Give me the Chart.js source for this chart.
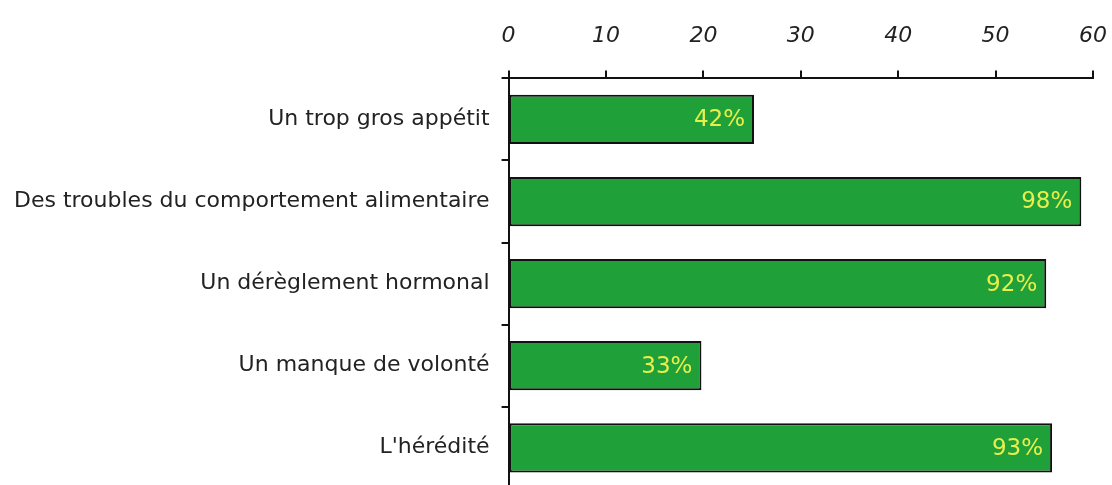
<!DOCTYPE html>
<html>
<head>
<meta charset="utf-8">
<script src="https://cdn.jsdelivr.net/npm/chart.js@4/dist/chart.umd.min.js"></script>
<style>
  html, body { margin: 0; padding: 0; background: #fff; overflow: hidden; }
</style>
</head>
<body>
<canvas id="chart-canvas" width="1112" height="514"></canvas>
<script>
// causes of obesity, bar length read on the 0-60 scale, label = percent
var categories = ["Un trop gros appétit", "Des troubles du comportement alimentaire", "Un dérèglement hormonal", "Un manque de volonté", "L'hérédité"];
var values = [25.2, 58.8, 55.2, 19.8, 55.8];
var percentLabels = ["42%", "98%", "92%", "33%", "93%"];
var xTicks = [0, 10, 20, 30, 40, 50, 60];

var labelFont = "'DejaVu Sans', sans-serif";

// draws the yellow percent text at the right end of each bar
var percentPlugin = {
    id: 'percentText',
    afterDatasetsDraw: function (chart) {
        var ctx = chart.ctx;
        var meta = chart.getDatasetMeta(0);
        ctx.save();
        ctx.font = "23px " + labelFont;
        ctx.fillStyle = '#e8ee4c';
        ctx.textAlign = 'right';
        ctx.textBaseline = 'middle';
        for (var i = 0; i < meta.data.length; i++) {
            var bar = meta.data[i];
            ctx.fillText(percentLabels[i], bar.x - 9, bar.y + 1);
        }
        ctx.restore();
    }
};

const ctx = document.getElementById('chart-canvas').getContext('2d');
var barChart = new Chart(ctx, {
    type: 'bar',
    data: {
        labels: categories,
        datasets: [{
            data: values,
            backgroundColor: '#20a038',
            borderColor: '#111',
            borderWidth: 2,
            borderSkipped: false,
            barPercentage: 0.6,
            categoryPercentage: 1
        }]
    },
    options: {
        indexAxis: 'y',
        responsive: false,
        animation: false,
        layout: {
            padding: { top: 2, right: 19, bottom: 1, left: 2 }
        },
        plugins: {
            legend: { display: false },
            tooltip: { enabled: false }
        },
        scales: {
            x: {
                position: 'top',
                min: 0,
                max: 60,
                afterBuildTicks: function (axis) {
                    axis.ticks = xTicks.map(function (v) { return { value: v }; });
                },
                afterFit: function (axis) {
                    axis.paddingRight = 0;
                    axis.paddingLeft = 0;
                },
                grid: {
                    drawOnChartArea: false,
                    color: '#111',
                    lineWidth: 2,
                    tickLength: 8
                },
                border: { color: '#111', width: 2 },
                ticks: {
                    padding: 21,
                    color: '#222',
                    maxRotation: 0,
                    font: { family: labelFont, size: 22, style: 'italic' }
                }
            },
            y: {
                grid: {
                    offset: true,
                    drawOnChartArea: false,
                    color: '#111',
                    lineWidth: 2,
                    tickLength: 7
                },
                border: { color: '#111', width: 2 },
                ticks: {
                    padding: 12,
                    color: '#222',
                    font: { family: labelFont, size: 22 }
                }
            }
        }
    },
    plugins: [percentPlugin]
});
</script>
</body>
</html>
